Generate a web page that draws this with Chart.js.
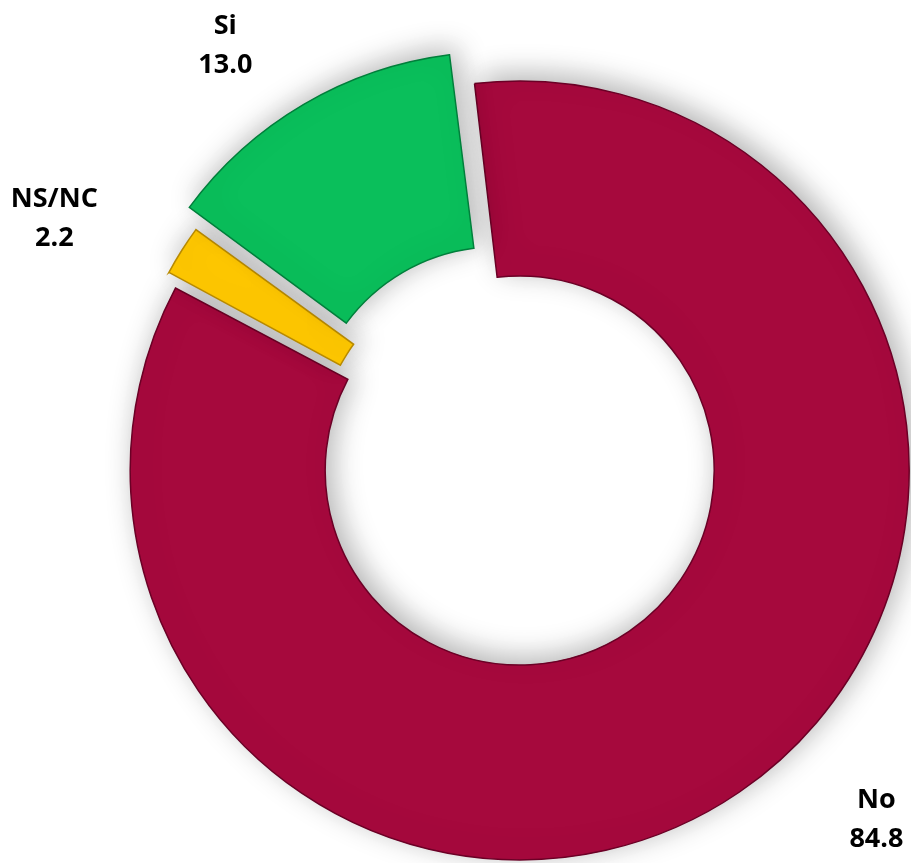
<!DOCTYPE html>
<html>
<head>
<meta charset="utf-8">
<script src="https://cdn.jsdelivr.net/npm/chart.js@4/dist/chart.umd.min.js"></script>
<style>
  html, body { margin: 0; padding: 0; background: #ffffff; }
  #wrap { width: 911px; height: 863px; position: relative; }
</style>
</head>
<body>
<div id="wrap"><canvas id="c"></canvas></div>
<script>
// ---- data ----
const categories = ['No', 'NS/NC', 'Si'];
const values = [84.8, 2.2, 13.0];

// ---- styles ----
const sliceColors = ['#A6093D', '#FFC800', '#0ABF5B'];
const sliceBorders = ['#6B0026', '#B88A00', '#007F3B'];
const sliceOffsets = [58, 32, 112];

const softShadow = {
  id: 'softShadow',
  beforeDatasetsDraw(chart) {
    const c = chart.ctx;
    c.save();
    c.shadowColor = 'rgba(0,0,0,0.30)';
    c.shadowBlur = 30;
    c.shadowOffsetX = 6;
    c.shadowOffsetY = -6;
  },
  afterDatasetsDraw(chart) {
    chart.ctx.restore();
  }
};

const outLabels = {
  id: 'outLabels',
  afterDraw(chart, args, opts) {
    const ctx = chart.ctx;
    const meta = chart.getDatasetMeta(0);
    ctx.save();
    ctx.font = opts.font;
    ctx.fillStyle = opts.color;
    ctx.textAlign = 'center';
    ctx.textBaseline = 'alphabetic';
    meta.data.forEach((arc, i) => {
      const p = arc.getProps(['x', 'y', 'startAngle', 'endAngle'], true);
      const mid = (p.startAngle + p.endAngle) / 2 + opts.angleShift[i] * Math.PI / 180;
      const d = opts.distance[i];
      const cx = p.x + Math.cos(mid) * d;
      const cy = p.y + Math.sin(mid) * d;
      ctx.fillText(chart.data.labels[i], cx, cy - opts.lineGap / 2 + opts.capHalf);
      ctx.fillText(chart.data.datasets[0].data[i].toFixed(1), cx, cy + opts.lineGap / 2 + opts.capHalf);
    });
    ctx.restore();
  }
};

new Chart(document.getElementById('c'), {
  type: 'doughnut',
  data: {
    labels: categories,
    datasets: [{
      data: values,
      backgroundColor: sliceColors,
      borderColor: sliceBorders,
      borderWidth: 1.5,
      borderJoinStyle: 'miter',
      offset: sliceOffsets,
      hoverOffset: 0,
      clip: false
    }]
  },
  options: {
    responsive: true,
    maintainAspectRatio: false,
    devicePixelRatio: 1,
    animation: false,
    rotation: -7,
    radius: 375,
    cutout: '48%',
    layout: { padding: { left: 112, right: 0, top: 54, bottom: 0 } },
    events: [],
    plugins: {
      legend: { display: false },
      tooltip: { enabled: false },
      outLabels: {
        font: 'bold 27px "Open Sans"',
        color: '#000000',
        lineGap: 39,
        capHalf: 9.5,
        distance: [512, 517, 504],
        angleShift: [-11.1, -4.4, -4.2]
      }
    }
  },
  plugins: [softShadow, outLabels]
});
</script>
</body>
</html>
